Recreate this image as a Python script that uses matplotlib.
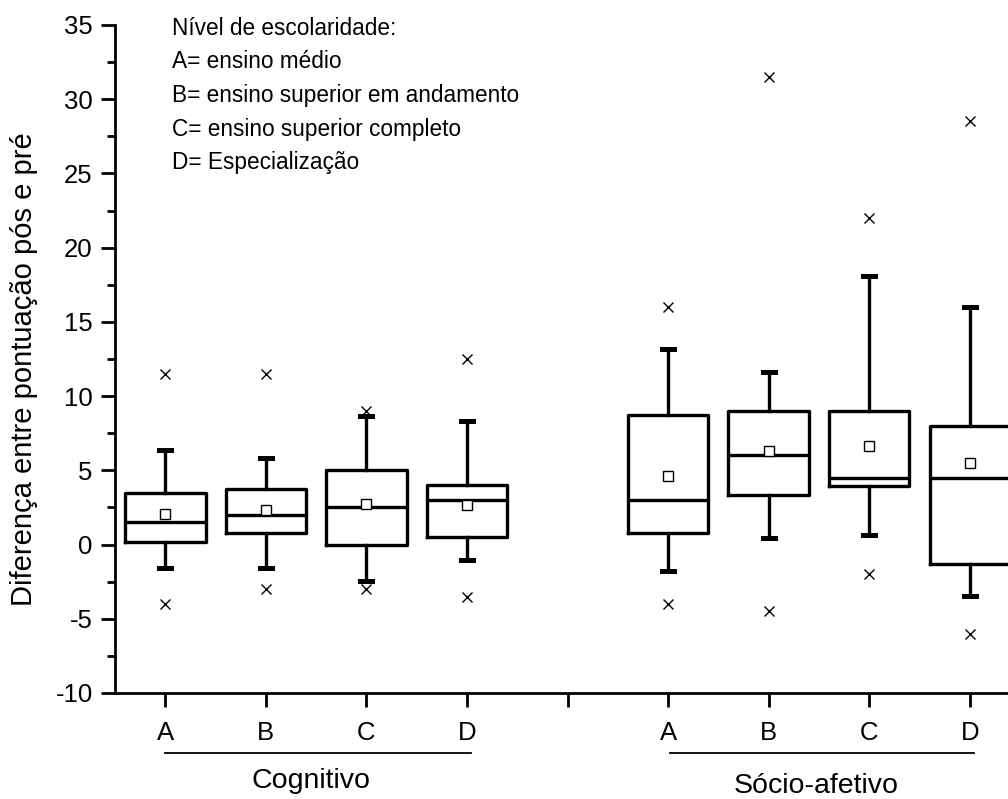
import matplotlib
matplotlib.use('Agg')
import matplotlib.pyplot as plt
from matplotlib.ticker import MultipleLocator

plt.rcParams['font.family'] = ['Liberation Sans', 'DejaVu Sans']
plt.rcParams['axes.unicode_minus'] = False

# valores (Cognitivo / Socio-afetivo, niveis A-D)
niveis = ['A', 'B', 'C', 'D']
grupos = ['Cognitivo', 'Sócio-afetivo']

cog_q1 = [0.2, 0.75, 0.0, 0.5]
cog_med = [1.5, 2.0, 2.5, 3.0]
cog_q3 = [3.5, 3.75, 5.0, 4.0]
cog_mean = [2.05, 2.3, 2.75, 2.65]
cog_whislo = [-1.6, -1.55, -2.45, -1.05]
cog_whishi = [6.35, 5.8, 8.65, 8.3]
cog_min = [-4.0, -3.0, -3.0, -3.5]
cog_max = [11.5, 11.5, 9.0, 12.5]

soc_q1 = [0.75, 3.35, 3.95, -1.3]
soc_med = [3.0, 6.0, 4.5, 4.5]
soc_q3 = [8.75, 9.0, 9.0, 8.0]
soc_mean = [4.65, 6.3, 6.65, 5.5]
soc_whislo = [-1.75, 0.45, 0.65, -3.45]
soc_whishi = [13.2, 11.65, 18.1, 16.0]
soc_min = [-4.0, -4.5, -2.0, -6.0]
soc_max = [16.0, 31.5, 22.0, 28.5]

legenda = ['Nível de escolaridade:',
           'A= ensino médio',
           'B= ensino superior em andamento',
           'C= ensino superior completo',
           'D= Especialização']

#%%
stats = []
for q1, med, q3, mean, lo, hi, mn, mx in zip(cog_q1 + soc_q1, cog_med + soc_med,
                                               cog_q3 + soc_q3, cog_mean + soc_mean,
                                               cog_whislo + soc_whislo, cog_whishi + soc_whishi,
                                               cog_min + soc_min, cog_max + soc_max):
    stats.append(dict(q1=q1, med=med, q3=q3, mean=mean, whislo=lo, whishi=hi,
                      fliers=[mn, mx]))
positions = [1, 2, 3, 4, 6, 7, 8, 9]

fig = plt.figure(figsize=(10.08, 7.99), dpi=100)
ax = fig.add_axes([115 / 1008, 106 / 799, 1 - 115 / 1008, 668 / 799])

lw = 2.4
ax.bxp(stats, positions=positions, widths=0.8, showmeans=True, capwidths=0.12,
       boxprops=dict(color='black', linewidth=lw),
       medianprops=dict(color='black', linewidth=lw),
       whiskerprops=dict(color='black', linewidth=lw),
       capprops=dict(color='black', linewidth=lw + 1.2),
       meanprops=dict(marker='s', markerfacecolor='white', markeredgecolor='black',
                      markersize=6.5, markeredgewidth=1),
       flierprops=dict(marker='x', markeredgecolor='black', markersize=7,
                       markeredgewidth=1))

ax.set_xlim(0.5, 9.38)
ax.set_ylim(-10, 35)
ax.set_xticks([1, 2, 3, 4, 5, 6, 7, 8, 9])
ax.set_xticklabels(niveis + [''] + niveis)
ax.yaxis.set_major_locator(MultipleLocator(5))
ax.yaxis.set_minor_locator(MultipleLocator(2.5))

for s in ['top', 'right']:
    ax.spines[s].set_visible(False)
for s in ['left', 'bottom']:
    ax.spines[s].set_linewidth(2)
ax.tick_params(axis='both', which='major', length=10, width=2, labelsize=18.5)
ax.tick_params(axis='x', which='major', pad=10)
ax.tick_params(axis='y', which='major', pad=6)
ax.tick_params(axis='y', which='minor', length=6, width=2)

ax.set_ylabel('Diferença entre pontuação pós e pré', fontsize=21)
ax.yaxis.set_label_coords(-0.086, 0.485)

# linhas e nomes dos grupos
trans = ax.get_xaxis_transform()
for xa, xb, xt, yt, g in [(1, 4.04, 2.45, -0.131, grupos[0]), (6.02, 9.04, 7.47, -0.139, grupos[1])]:
    ax.plot([xa, xb], [-0.09, -0.09], color='black', linewidth=1.3,
            transform=trans, clip_on=False)
    ax.text(xt, yt, g, transform=trans, ha='center', va='center', fontsize=20.5)

# legenda de niveis
for i, linha in enumerate(legenda):
    ax.text(0.0635, 0.9955 - i * 0.0505, linha, transform=ax.transAxes,
            ha='left', va='center', fontsize=16.3)

fig.savefig('out.png', dpi=100)
